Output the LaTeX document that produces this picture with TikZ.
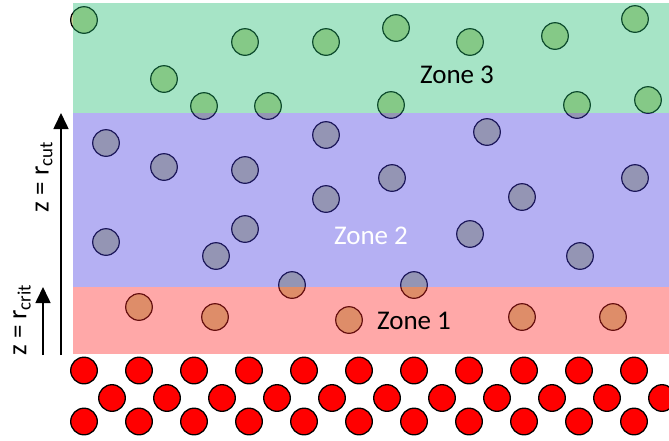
\documentclass[tikz,border=0pt]{standalone}
\usepackage{fontspec}
\setmainfont{Carlito}
\usetikzlibrary{arrows.meta}
\definecolor{partc}{RGB}{200,210,150}
\definecolor{greenband}{RGB}{33,188,113}
\definecolor{blueband}{RGB}{70,58,225}
\definecolor{redband}{RGB}{255,38,38}
\begin{document}
\begin{tikzpicture}[x=1pt,y=-1pt,
  particle/.style={fill=partc,draw=black,line width=1.2pt},
  solid particle/.style={fill=red,draw=black,line width=1.3pt},
  band/.style={fill opacity=0.4},
  zonelabel/.style={font=\fontsize{27}{32}\selectfont,anchor=base,inner sep=0pt},
  zlabel/.style={font=\fontsize{27}{32}\selectfont,rotate=90,inner sep=0pt},
  axis arrow/.style={line width=1.6pt,-{Triangle[width=15pt,length=16pt]}}]
\useasboundingbox (0,0) rectangle (669,440);
% particles in the zones
\foreach \x/\y in {84/20,245/42,326/42,164/79,204/106,268/106,
                   396/28,470/42,555/36,635/19,391/105,577/105,648/100,
                   106/143,326/135,164/167,245/170,326/199,106/242,245/229,216/256,292/285,
                   487/132,392/178,635/178,522/197,470/234,580/256,414/285,
                   139/307,215/317,349/320,522/317,613/317}
  \draw[particle] (\x,\y) circle[radius=13.3];
% zones
\fill[band,greenband] (73,3) rectangle (669,113);
\fill[band,blueband] (73,113) rectangle (669,286.5);
\fill[band,redband] (73,286.5) rectangle (669,354);
% solid surface
\foreach \k in {0,...,10} {
  \draw[solid particle] (84+55*\k,370.5) circle[radius=13.3];
  \draw[solid particle] (112+55*\k,398) circle[radius=13.3];
  \draw[solid particle] (84+55*\k,421.5) circle[radius=13.3];
}
% zone labels
\node[zonelabel] (z3) at (457,83) {Zone 3};
\node[zonelabel,text=white] (z2) at (371,244) {Zone 2};
\node[zonelabel] (z1) at (414,329) {Zone 1};
% arrows
\coordinate (cutbase) at (61,355);
\coordinate (cuttip) at (61,113);
\coordinate (critbase) at (43,355);
\coordinate (crittip) at (43,287);
\draw[axis arrow] (cutbase) -- (cuttip);
\draw[axis arrow] (critbase) -- (crittip);
\node[zlabel] (lcut) at (44,177) {z = r\textsubscript{cut}};
\node[zlabel] (lcrit) at (22,320) {z = r\textsubscript{crit}};
\end{tikzpicture}
\end{document}
